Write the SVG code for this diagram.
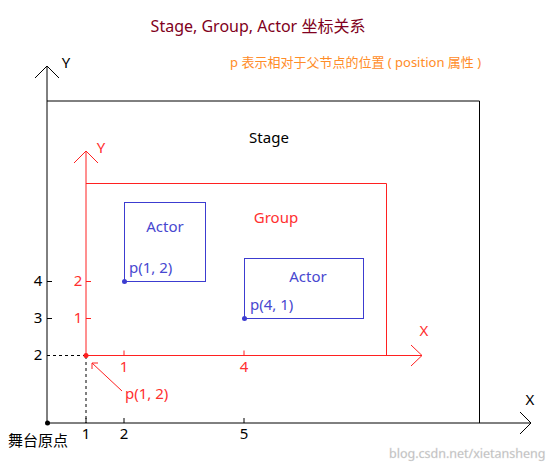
<svg xmlns="http://www.w3.org/2000/svg" width="559" height="468" viewBox="0 0 559 468">
<style>
text{font-family:"Noto Sans","Noto Sans CJK SC",sans-serif;}
.k{stroke:#000;stroke-width:1;fill:none}
.r{stroke:#ff2020;stroke-width:1;fill:none}
.b{stroke:#3c3cd0;stroke-width:1;fill:none}
.tk{fill:#000;font-size:15px;text-anchor:middle}
.tr{fill:#ff3030;font-size:15px;text-anchor:middle}
</style>
<rect width="559" height="468" fill="#fff"/>
<text x="258" y="32" font-size="16" fill="#800020" text-anchor="middle">Stage, Group, Actor 坐标关系</text>
<text x="230" y="67" font-size="13" fill="#ff8c28">p 表示相对于父节点的位置 ( position 属性 )</text>
<g id="connectors">
<polyline class="k" points="47,423 47,66"/>
<polyline class="k" points="35,78 47,66 59,78"/>
<polyline class="k" points="47,423 531,423"/>
<polyline class="k" points="520,412 531,423 520,434"/>
<path class="k" d="M47,281.5h5M47,318.5h5M86,423v-5M124,423v-5M244,423v-5"/>
<path class="k" stroke-dasharray="3,3" d="M47,355.5H86M86,356V423"/>
<polyline class="r" points="86,355.5 86,151"/>
<polyline class="r" points="74,163 86,151 98,163"/>
<polyline class="r" points="86,355.5 422,355.5"/>
<polyline class="r" points="411,345 422,355.5 411,366"/>
<path class="r" d="M86,281.5h5M86,318.5h5M124,355.5v-5M244,355.5v-5"/>
<line class="r" x1="122" y1="391" x2="92" y2="363" stroke-width="0.8"/>
<polyline class="r" points="92,369 92,363 98,363"/>
</g>
<g id="stage">
<polyline class="k" points="47,101 479.5,101 479.5,423"/>
<text x="269" y="143" font-size="15" fill="#000" text-anchor="middle">Stage</text>
<circle cx="47.5" cy="423" r="2.5" fill="#000"/>
<text x="66" y="68" font-size="15" fill="#000" text-anchor="middle">Y</text>
<text x="530" y="405" font-size="15" fill="#000" text-anchor="middle">X</text>
<text class="tk" x="38" y="286">4</text>
<text class="tk" x="38" y="323">3</text>
<text class="tk" x="38" y="360">2</text>
<text class="tk" x="86" y="439">1</text>
<text class="tk" x="124" y="439">2</text>
<text class="tk" x="244" y="439">5</text>
<text x="8" y="446" font-size="15" fill="#000">舞台原点</text>
</g>
<g id="group">
<polyline class="r" points="86,183.5 386.5,183.5 386.5,355.5"/>
<text x="276" y="223" font-size="15" fill="#ff3030" text-anchor="middle">Group</text>
<circle cx="86" cy="355.5" r="2.5" fill="#ff2020"/>
<text x="101" y="153" font-size="15" fill="#ff3030" text-anchor="middle">Y</text>
<text x="424" y="336" font-size="15" fill="#ff3030" text-anchor="middle">X</text>
<text class="tr" x="78" y="286">2</text>
<text class="tr" x="78" y="323">1</text>
<text class="tr" x="124" y="372">1</text>
<text class="tr" x="244" y="372">4</text>
<text x="125" y="399" font-size="15" fill="#ff3030">p(1, 2)</text>
</g>
<g id="actor1">
<rect class="b" x="124.5" y="202.5" width="81" height="79"/>
<text x="165" y="232" font-size="15" fill="#4848d0" text-anchor="middle">Actor</text>
<text x="129" y="273" font-size="15" fill="#4848d0">p(1, 2)</text>
<circle cx="124.5" cy="281.5" r="2.5" fill="#3c3cd0"/>
</g>
<g id="actor2">
<rect class="b" x="244.5" y="258.5" width="119" height="60"/>
<text x="308" y="282" font-size="15" fill="#4848d0" text-anchor="middle">Actor</text>
<text x="250" y="310" font-size="15" fill="#4848d0">p(4, 1)</text>
<circle cx="244.5" cy="318.5" r="2.5" fill="#3c3cd0"/>
</g>
<text x="389" y="458" font-size="12.5" fill="#b4b4b4" stroke="#e0e0e0" stroke-width="0.3">blog.csdn.net/xietansheng</text>
</svg>
